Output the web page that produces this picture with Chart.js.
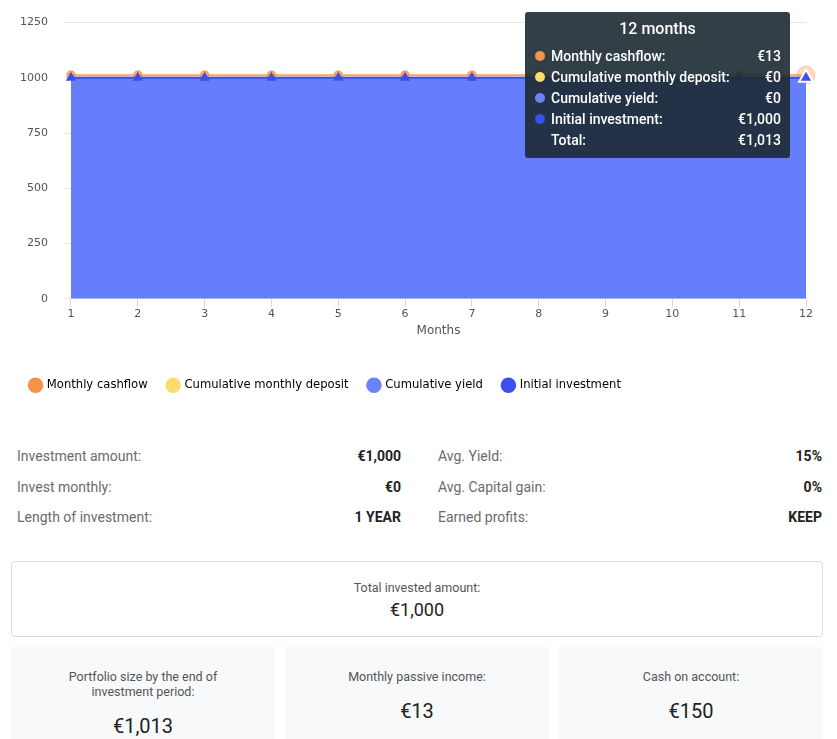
<!DOCTYPE html>
<html>
<head>
<meta charset="utf-8">
<script src="https://cdn.jsdelivr.net/npm/chart.js@4.4.1/dist/chart.umd.min.js"></script>
<style>
  body { margin: 0; background: #fff; font-family: Roboto, "Noto Sans", sans-serif; width: 837px; }
  #chartBox { position: relative; width: 837px; height: 401px; }
  #tip { position: absolute; width: 265px; background: rgba(28, 42, 50, 0.9); color: #fff; border-radius: 3px; padding: 6px 0 8px 0; pointer-events: none; opacity: 0; }
  #tip .tt { text-align: center; font-size: 16px; font-weight: 500; height: 22px; line-height: 22px; margin-bottom: 5px; }
  #tip .row { display: flex; align-items: center; height: 21px; font-size: 14px; font-weight: 500; padding: 0 9px 0 10px; }
  #tip .dot { width: 10px; height: 10px; border-radius: 50%; margin-right: 6px; flex: none; }
  #tip .lab { flex: 1; }
  #tip .val { text-align: right; }

  .stats { display: flex; justify-content: space-between; padding: 0 15px 0 17px; margin-top: 40px; }
  .col { width: 384px; }
  .srow { display: flex; justify-content: space-between; height: 30.5px; line-height: 30px; font-size: 14px; }
  .srow .l { color: #6b6b6b; }
  .srow .v { color: #222; font-weight: 700; }
  .total { margin: 28px 14px 0 11px; height: 74px; border: 1px solid #dcdcdc; border-radius: 4px; text-align: center; }
  .total .l { font-size: 12.5px; color: #555; margin-top: 18px; }
  .total .v { font-size: 18px; color: #222; margin-top: 4px; }
  .cards { display: flex; gap: 10px; margin: 10px 14px 0 11px; }
  .card { flex: 1; background: #f8f9fa; height: 110px; text-align: center; }
  .card .l { font-size: 12.5px; color: #555; margin-top: 22px; line-height: 15px; }
  .card .v { font-size: 20px; color: #222; margin-top: 15px; }
</style>
</head>
<body>
<div id="chartBox">
  <canvas id="investChart"></canvas>
  <div id="tip"></div>
</div>

<div class="stats">
  <div class="col" id="statsLeft"></div>
  <div class="col" id="statsRight"></div>
</div>
<div class="total">
  <div class="l">Total invested amount:</div>
  <div class="v" id="totalInvested"></div>
</div>
<div class="cards" id="cards"></div>

<script>
// data
const months = [1, 2, 3, 4, 5, 6, 7, 8, 9, 10, 11, 12];
const initialInvestment = [1000, 1000, 1000, 1000, 1000, 1000, 1000, 1000, 1000, 1000, 1000, 1000];
const cumulativeYield = [0, 0, 0, 0, 0, 0, 0, 0, 0, 0, 0, 0];
const cumulativeDeposit = [0, 0, 0, 0, 0, 0, 0, 0, 0, 0, 0, 0];
const monthlyCashflow = [12.5, 12.5, 12.5, 12.5, 12.5, 12.5, 12.5, 12.5, 12.5, 12.5, 12.5, 12.5];
const yTicks = [0, 250, 500, 750, 1000, 1250];

const seriesLabels = ['Monthly cashflow', 'Cumulative monthly deposit', 'Cumulative yield', 'Initial investment'];
const seriesColors = ['#f7924a', '#fddc6c', '#6c83f7', '#3a50ee'];

const leftStats = [['Investment amount:', '€1,000'], ['Invest monthly:', '€0'], ['Length of investment:', '1 YEAR']];
const rightStats = [['Avg. Yield:', '15%'], ['Avg. Capital gain:', '0%'], ['Earned profits:', 'KEEP']];
const totalInvested = '€1,000';
const cardItems = [['Portfolio size by the end of<br>investment period:', '€1,013'], ['Monthly passive income:', '€13'], ['Cash on account:', '€150']];

const euro = v => '€' + Math.round(v).toLocaleString('en-US');

// stats under the chart
function fillStats(id, rows) {
    document.getElementById(id).innerHTML = rows
        .map(r => `<div class="srow"><span class="l">${r[0]}</span><span class="v">${r[1]}</span></div>`).join('');
}
fillStats('statsLeft', leftStats);
fillStats('statsRight', rightStats);
document.getElementById('totalInvested').textContent = totalInvested;
document.getElementById('cards').innerHTML = cardItems
    .map(c => `<div class="card"><div class="l">${c[0]}</div><div class="v">${c[1]}</div></div>`).join('');

// tooltip html (external)
function externalTip(context) {
    const tooltip = context.tooltip;
    const el = document.getElementById('tip');
    if (tooltip.opacity === 0) { el.style.opacity = 0; return; }
    const i = tooltip.dataPoints[0].dataIndex;
    const vals = [monthlyCashflow[i], cumulativeDeposit[i], cumulativeYield[i], initialInvestment[i]];
    const total = vals.reduce((a, b) => a + b, 0);
    let html = `<div class="tt">${months[i]} months</div>`;
    vals.forEach((v, k) => {
        html += `<div class="row"><span class="dot" style="background:${seriesColors[k]}"></span><span class="lab">${seriesLabels[k]}:</span><span class="val">${euro(v)}</span></div>`;
    });
    html += `<div class="row"><span class="dot"></span><span class="lab">Total:</span><span class="val">${euro(total)}</span></div>`;
    el.innerHTML = html;
    el.style.opacity = 1;
    el.style.left = (tooltip.caretX - 16 - 265) + 'px';
    el.style.top = (tooltip.caretY - 65) + 'px';
}

// nudge the legend a little to the right, chart area stays where it is
const legendShift = {
    id: 'legendShift',
    afterLayout(chart) {
        chart.legend.left += 6;
        chart.legend.right += 6;
    }
};

Chart.defaults.font.family = '"DejaVu Sans", Verdana, sans-serif';
Chart.defaults.color = '#555';

const ctx = document.getElementById('investChart').getContext('2d');
const chart = new Chart(ctx, {
    type: 'line',
    data: {
        labels: months,
        datasets: [
            {
                label: 'Initial investment',
                data: initialInvestment,
                borderColor: '#3a50ee',
                backgroundColor: '#657ffc',
                borderWidth: 2,
                fill: 'origin',
                pointStyle: 'triangle',
                pointRadius: 4,
                pointBackgroundColor: '#3a50ee',
                pointBorderColor: '#3a50ee',
                pointHoverRadius: 8,
                pointHoverBackgroundColor: '#3a50ee',
                pointHoverBorderColor: '#ffffff',
                pointHoverBorderWidth: 2,
                tension: 0
            },
            {
                label: 'Cumulative yield',
                data: cumulativeYield,
                borderColor: '#6c83f7',
                backgroundColor: '#6c83f7',
                borderWidth: 0,
                fill: '-1',
                pointRadius: 0,
                pointHoverRadius: 0
            },
            {
                label: 'Cumulative monthly deposit',
                data: cumulativeDeposit,
                borderColor: '#fddc6c',
                backgroundColor: '#fddc6c',
                borderWidth: 0,
                fill: '-1',
                pointRadius: 0,
                pointHoverRadius: 0
            },
            {
                label: 'Monthly cashflow',
                data: monthlyCashflow,
                borderColor: 'rgba(247, 146, 74, 0.9)',
                backgroundColor: 'rgba(247, 146, 74, 0.35)',
                borderWidth: 1.5,
                fill: '-1',
                pointRadius: 4,
                pointBackgroundColor: 'rgba(247, 146, 74, 0.75)',
                pointBorderColor: 'rgba(247, 146, 74, 0.75)',
                pointHoverRadius: 9,
                pointHoverBackgroundColor: 'rgba(247, 146, 74, 0.35)',
                pointHoverBorderColor: 'rgba(247, 146, 74, 0.35)',
                tension: 0
            }
        ]
    },
    options: {
        responsive: true,
        maintainAspectRatio: false,
        animation: false,
        layout: { padding: { left: 4, right: 31, top: 18, bottom: 0 } },
        interaction: { mode: 'index', intersect: false },
        scales: {
            x: {
                type: 'category',
                offset: false,
                grid: { drawOnChartArea: false, drawTicks: true, tickLength: 8, color: '#d8d8d8' },
                border: { color: '#d8d8d8' },
                ticks: { padding: 1, font: { size: 11 }, color: '#555' },
                title: { display: true, text: 'Months', font: { size: 12 }, color: '#555', padding: { top: 2, bottom: 21 } }
            },
            y: {
                stacked: true,
                min: 0,
                max: 1250,
                afterBuildTicks: axis => { axis.ticks = yTicks.map(v => ({ value: v })); },
                grid: { color: '#e6e6e6', tickLength: 7 },
                border: { display: false },
                ticks: { padding: 16, font: { size: 11 }, color: '#555', callback: v => String(v) }
            }
        },
        plugins: {
            legend: {
                position: 'bottom',
                align: 'start',
                labels: {
                    usePointStyle: true,
                    pointStyle: 'circle',
                    boxWidth: 11,
                    boxHeight: 11,
                    padding: 20,
                    font: { size: 11.6 },
                    color: '#333',
                    sort: (a, b) => b.datasetIndex - a.datasetIndex,
                    generateLabels: c => c.data.datasets.map((ds, i) => ({
                        text: ds.label,
                        fillStyle: seriesColors[seriesLabels.indexOf(ds.label)],
                        strokeStyle: 'transparent',
                        lineWidth: 0,
                        pointStyle: 'circle',
                        hidden: !c.isDatasetVisible(i),
                        datasetIndex: i
                    }))
                }
            },
            tooltip: { enabled: false, external: externalTip }
        }
    },
    plugins: [legendShift]
});

// show the tooltip for the last month like in the screenshot
const last = months.length - 1;
const active = chart.data.datasets.map((d, i) => ({ datasetIndex: i, index: last }));
chart.setActiveElements(active);
chart.tooltip.setActiveElements(active, { x: 0, y: 0 });
chart.update();
</script>
</body>
</html>
